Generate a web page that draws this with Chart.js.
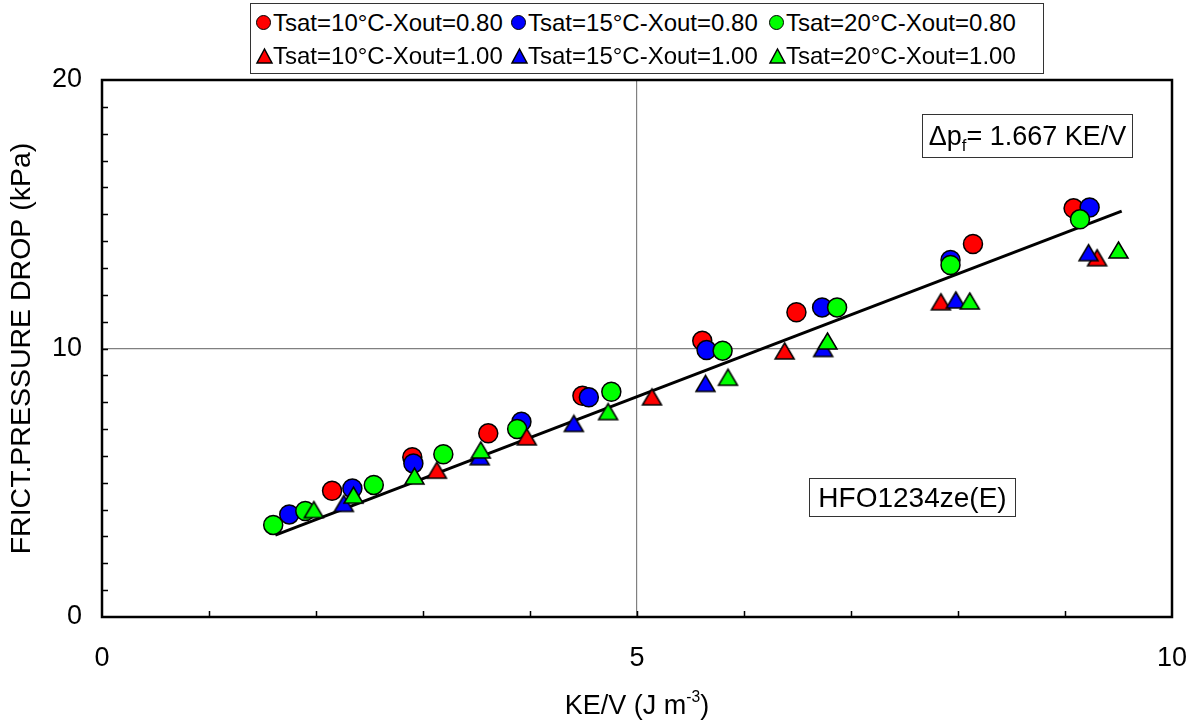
<!DOCTYPE html>
<html>
<head>
<meta charset="utf-8">
<script src="https://cdn.jsdelivr.net/npm/chart.js@4"></script>
<style>
  body { margin: 0; background: #fff; font-family: "Liberation Sans", Arial, sans-serif; }
  #wrap { position: relative; width: 1196px; height: 723px; }
  canvas { position: absolute; left: 0; top: 0; }
  .box { position: absolute; border: 1px solid #333; background: #fff; box-sizing: border-box; }
  .item { position: absolute; font-size: 24px; line-height: 28px; white-space: nowrap; color: #000; }
  .mk { position: absolute; }
  .note { position: absolute; border: 1px solid #333; box-sizing: border-box; white-space: nowrap; text-align: center; color: #000; }
  sub { font-size: 62%; vertical-align: -0.35em; line-height: 0; }
  sup { font-size: 58%; vertical-align: 0.75em; line-height: 0; }
  #xtitle { position: absolute; left: 437px; width: 400px; top: 690px; text-align: center; font-size: 27px; line-height: 30px; }
</style>
</head>
<body>
<div id="wrap">
  <canvas id="c" width="1196" height="723"></canvas>
  <div class="box" id="legend" style="left:250px;top:3px;width:794px;height:71px;"></div>
  <div class="note" style="left:922px;top:114px;width:211px;height:44px;font-size:27px;line-height:42px;">&Delta;p<sub>f</sub>= 1.667 KE/V</div>
  <div class="note" style="left:809px;top:478px;width:207px;height:39px;font-size:28px;line-height:37px;">HFO1234ze(E)</div>
  <div id="xtitle">KE/V (J m<sup>-3</sup>)</div>
</div>
<script>
// series: KE/V (J m-3) vs frictional pressure drop (kPa)
const seriesLabels = [
  'Tsat=10°C-Xout=0.80', 'Tsat=15°C-Xout=0.80', 'Tsat=20°C-Xout=0.80',
  'Tsat=10°C-Xout=1.00', 'Tsat=15°C-Xout=1.00', 'Tsat=20°C-Xout=1.00'
];

const red080X = [2.15, 2.90, 3.61, 4.49, 5.61, 6.49, 8.14, 9.08];
const red080Y = [4.70, 5.95, 6.84, 8.24, 10.29, 11.35, 13.89, 15.22];
const blue080X = [1.75, 2.34, 2.91, 3.92, 4.55, 5.65, 6.73, 7.93, 9.23];
const blue080Y = [3.82, 4.79, 5.72, 7.27, 8.18, 9.94, 11.53, 13.30, 15.25];
const green080X = [1.60, 1.90, 2.54, 3.19, 3.88, 4.76, 5.80, 6.87, 7.93, 9.14];
const green080Y = [3.43, 3.95, 4.92, 6.06, 7.00, 8.39, 9.92, 11.53, 13.11, 14.81];

const red100X = [3.13, 3.97, 5.14, 6.38, 7.84, 9.30];
const red100Y = [5.47, 6.71, 8.20, 9.91, 11.74, 13.38];
const blue100X = [2.26, 3.53, 4.41, 5.64, 6.74, 7.98, 9.22];
const blue100Y = [4.23, 5.97, 7.21, 8.70, 10.00, 11.81, 13.57];
const green100X = [1.98, 2.35, 2.92, 3.54, 4.73, 5.85, 6.78, 8.11, 9.50];
const green100Y = [4.00, 4.54, 5.25, 6.22, 7.65, 8.93, 10.28, 11.77, 13.67];

// fitted line end points
const fitX = [1.62, 9.53];
const fitY = [3.05, 15.12];

const xTicks = [0, 5, 10];
const yTicks = [0, 10, 20];

const RED = '#ff0000', BLUE = '#0000ff', GREEN = '#00ff00';

function pts(xs, ys) {
  return xs.map((x, i) => ({ x, y: ys[i] }));
}

// triangle marker centred on its bounding box (as in the source plot)
function triangleImage(color, w, h) {
  const pad = 2;
  const cv = document.createElement('canvas');
  cv.width = w + pad * 2;
  cv.height = h + pad * 2;
  const ctx = cv.getContext('2d');
  ctx.beginPath();
  ctx.moveTo(pad + w / 2, pad);
  ctx.lineTo(pad + w, pad + h);
  ctx.lineTo(pad, pad + h);
  ctx.closePath();
  ctx.fillStyle = color;
  ctx.fill();
  ctx.lineWidth = 1.5;
  ctx.strokeStyle = '#000';
  ctx.lineJoin = 'miter';
  ctx.stroke();
  return cv;
}

const triRed = triangleImage(RED, 19, 16);
const triBlue = triangleImage(BLUE, 19, 16);
const triGreen = triangleImage(GREEN, 19, 16);

function circleSet(label, color, data, order) {
  return {
    type: 'scatter', label, data, order,
    pointStyle: 'circle', pointRadius: 9.5, pointHoverRadius: 9.5,
    backgroundColor: color, borderColor: '#000', borderWidth: 1.5
  };
}
function triangleSet(label, color, img, data, order) {
  return {
    type: 'scatter', label, data, order,
    pointStyle: img, pointRadius: 9, backgroundColor: color,
    borderColor: '#000', borderWidth: 1.5
  };
}

const datasets = [
  {
    type: 'line', label: 'fit', data: pts(fitX, fitY), order: 10,
    borderColor: '#000', borderWidth: 3, pointRadius: 0, fill: false
  },
  circleSet(seriesLabels[0], RED, pts(red080X, red080Y), 6),
  circleSet(seriesLabels[1], BLUE, pts(blue080X, blue080Y), 5),
  circleSet(seriesLabels[2], GREEN, pts(green080X, green080Y), 4),
  triangleSet(seriesLabels[3], RED, triRed, pts(red100X, red100Y), 3),
  triangleSet(seriesLabels[4], BLUE, triBlue, pts(blue100X, blue100Y), 2),
  triangleSet(seriesLabels[5], GREEN, triGreen, pts(green100X, green100Y), 1)
];

// frame, inward minor ticks
const framePlugin = {
  id: 'frame',
  afterDatasetsDraw(chart) {
    const { ctx, chartArea: a, scales } = chart;
    ctx.save();
    ctx.strokeStyle = '#000';
    ctx.lineWidth = 1.5;
    ctx.beginPath();
    for (let v = 1; v < 10; v++) {
      const px = Math.round(scales.x.getPixelForValue(v)) + 0.5;
      ctx.moveTo(px, a.bottom);
      ctx.lineTo(px, a.bottom - 6);
    }
    for (let v = 1; v < 20; v++) {
      const py = Math.round(scales.y.getPixelForValue(v)) + 0.5;
      ctx.moveTo(a.left, py);
      ctx.lineTo(a.left + 6, py);
    }
    ctx.stroke();
    ctx.lineWidth = 2.5;
    ctx.strokeRect(a.left, a.top, a.right - a.left, a.bottom - a.top);
    ctx.restore();
  }
};

const tickFont = { family: '"Liberation Sans", Arial, sans-serif', size: 27 };

new Chart(document.getElementById('c'), {
  data: { datasets },
  options: {
    responsive: false,
    animation: false,
    layout: { padding: { top: 80, right: 24, left: 0, bottom: 0 } },
    plugins: { legend: { display: false }, tooltip: { enabled: false } },
    scales: {
      x: {
        type: 'linear', min: 0, max: 10,
        afterBuildTicks: s => { s.ticks = xTicks.map(v => ({ value: v })); },
        afterFit: s => { s.height = 106; s.paddingLeft = 0; s.paddingRight = 0; },
        ticks: { font: tickFont, color: '#000', padding: 25 },
        grid: {
          drawTicks: false,
          color: c => (c.tick && c.tick.value === 5 ? '#808080' : 'rgba(0,0,0,0)'),
          lineWidth: 1.2
        },
        border: { display: false }
      },
      y: {
        type: 'linear', min: 0, max: 20,
        afterBuildTicks: s => { s.ticks = yTicks.map(v => ({ value: v })); },
        afterFit: s => { s.width = 102; s.paddingTop = 0; s.paddingBottom = 0; },
        ticks: { font: tickFont, color: '#000', padding: 20 },
        grid: {
          drawTicks: false,
          color: c => (c.tick && c.tick.value === 10 ? '#808080' : 'rgba(0,0,0,0)'),
          lineWidth: 1.2
        },
        border: { display: false },
        title: {
          display: true, text: 'FRICT.PRESSURE DROP (kPa)', color: '#000',
          font: { family: '"Liberation Sans", Arial, sans-serif', size: 28.5 },
          padding: { top: 5, bottom: 0 }
        }
      }
    }
  },
  plugins: [framePlugin]
});

// legend box, 3 columns x 2 rows as in the figure
const legendEl = document.getElementById('legend');
const colLeft = [13, 268, 526];
const rowMid = [19, 52];
const legendColors = [RED, BLUE, GREEN];
seriesLabels.forEach((label, i) => {
  const col = i % 3, row = Math.floor(i / 3);
  const cx = colLeft[col], cy = rowMid[row];
  let mk;
  if (row === 0) {
    mk = document.createElement('div');
    mk.className = 'mk';
    mk.style.cssText = `left:${cx - 8}px;top:${cy - 8}px;width:13px;height:13px;border-radius:50%;border:1.5px solid #000;background:${legendColors[col]};`;
  } else {
    mk = document.createElement('canvas');
    mk.className = 'mk';
    const img = triangleImage(legendColors[col], 15, 14);
    mk.width = img.width; mk.height = img.height;
    mk.getContext('2d').drawImage(img, 0, 0);
    mk.style.cssText = `left:${cx - img.width / 2}px;top:${cy - img.height / 2}px;`;
  }
  legendEl.appendChild(mk);
  const t = document.createElement('div');
  t.className = 'item';
  t.textContent = label;
  t.style.left = (cx + 9) + 'px';
  t.style.top = (cy - 14) + 'px';
  legendEl.appendChild(t);
});
</script>
</body>
</html>
